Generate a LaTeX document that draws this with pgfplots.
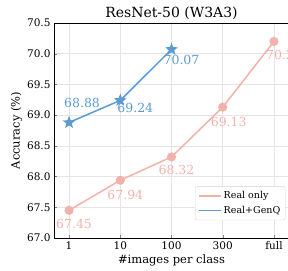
\documentclass[border=0pt]{standalone}
\usepackage{pgfplots}
\pgfplotsset{compat=1.18}
\usepackage{pgfplotstable}
\usepackage{fontspec}
\setmainfont{DejaVu Serif}
\definecolor{pinkc}{HTML}{F2B2AC}
\definecolor{bluec}{HTML}{5B9BD2}
\pgfdeclareplotmark{fstar}{%
  \pgfpathmoveto{\pgfqpointpolar{90}{\pgfplotmarksize}}%
  \pgfpathlineto{\pgfqpointpolar{126}{0.42\pgfplotmarksize}}%
  \pgfpathlineto{\pgfqpointpolar{162}{\pgfplotmarksize}}%
  \pgfpathlineto{\pgfqpointpolar{198}{0.42\pgfplotmarksize}}%
  \pgfpathlineto{\pgfqpointpolar{234}{\pgfplotmarksize}}%
  \pgfpathlineto{\pgfqpointpolar{270}{0.42\pgfplotmarksize}}%
  \pgfpathlineto{\pgfqpointpolar{306}{\pgfplotmarksize}}%
  \pgfpathlineto{\pgfqpointpolar{342}{0.42\pgfplotmarksize}}%
  \pgfpathlineto{\pgfqpointpolar{18}{\pgfplotmarksize}}%
  \pgfpathlineto{\pgfqpointpolar{54}{0.42\pgfplotmarksize}}%
  \pgfpathclose
  \pgfusepathqfillstroke}
\pgfplotstableread{
x y dx dy
0 67.45 5 -14
1 67.94 5 -15
2 68.32 5 -13
3 69.13 6 -15
4 70.20 10 -14
}\realonly
\pgfplotstableread{
x y dx dy
0 68.88 13 20
1 69.24 15 -8
2 70.07 10 -11
}\genq
\begin{document}
\begin{tikzpicture}
\path[use as bounding box] (0,0) rectangle (288pt,270pt);
\begin{axis}[
  at={(54pt,32pt)}, anchor=south west,
  scale only axis, width=235pt, height=215pt,
  xmin=-0.294, xmax=4.294, ymin=67.0, ymax=70.5,
  xtick={0,1,2,3,4}, xticklabels={1,10,100,300,full},
  ytick={67.0,67.5,68.0,68.5,69.0,69.5,70.0,70.5},
  yticklabel style={/pgf/number format/.cd,fixed,fixed zerofill,precision=1},
  /pgf/number format/assume math mode=true,
  tick label style={font=\fontsize{10.5}{12}\selectfont},
  tick align=inside, xtick pos=bottom, ytick pos=left,
  major tick length=3pt,
  grid=major, grid style={gray!20, line width=0.6pt},
  axis line style={black, line width=0.8pt},
  title={ResNet-50 (W3A3)},
  every axis title/.style={at={(0.5,1)}, anchor=base, yshift=5pt, font=\fontsize{14}{16}\selectfont},
  xlabel={\#images per class},
  ylabel={Accuracy (\%)},
  label style={font=\fontsize{11.5}{13}\selectfont},
  xlabel style={yshift=2pt},
  ylabel style={yshift=-2pt},
  legend style={at={(0.985,0.24)}, anchor=north east, draw=gray!35, rounded corners=2pt,
    font=\fontsize{9.5}{11}\selectfont, row sep=2pt, inner sep=3pt},
  legend cell align=left,
  legend image code/.code={\draw[#1, mark=none, line width=1.5pt] (0pt,0pt) -- (22pt,0pt);},
  clip=false,
]
\addplot[pinkc, line width=1.5pt, mark=*, mark size=3.8pt, mark options={fill=pinkc, draw=pinkc}] table[x=x,y=y] {\realonly};
\addlegendentry{Real only}
\addplot[bluec, line width=1.5pt, mark=fstar, mark size=4.6pt, mark options={fill=bluec, draw=bluec}] table[x=x,y=y] {\genq};
\addlegendentry{Real+GenQ}
\addplot[draw=none, mark=none, forget plot,
  visualization depends on={\thisrow{dx} \as \dx},
  visualization depends on={\thisrow{dy} \as \dy},
  nodes near coords={\pgfmathprintnumber[fixed,fixed zerofill,precision=2]{\pgfplotspointmeta}},
  point meta=explicit,
  nodes near coords style={anchor=center, text=pinkc, xshift=\dx pt, yshift=\dy pt, font=\fontsize{12.5}{14}\selectfont, /pgf/number format/assume math mode=true},
] table[x=x,y=y,meta=y] {\realonly};
\addplot[draw=none, mark=none, forget plot,
  visualization depends on={\thisrow{dx} \as \dx},
  visualization depends on={\thisrow{dy} \as \dy},
  nodes near coords={\pgfmathprintnumber[fixed,fixed zerofill,precision=2]{\pgfplotspointmeta}},
  point meta=explicit,
  nodes near coords style={anchor=center, text=bluec, xshift=\dx pt, yshift=\dy pt, font=\fontsize{12.5}{14}\selectfont, /pgf/number format/assume math mode=true},
] table[x=x,y=y,meta=y] {\genq};
\end{axis}
\end{tikzpicture}
\end{document}
